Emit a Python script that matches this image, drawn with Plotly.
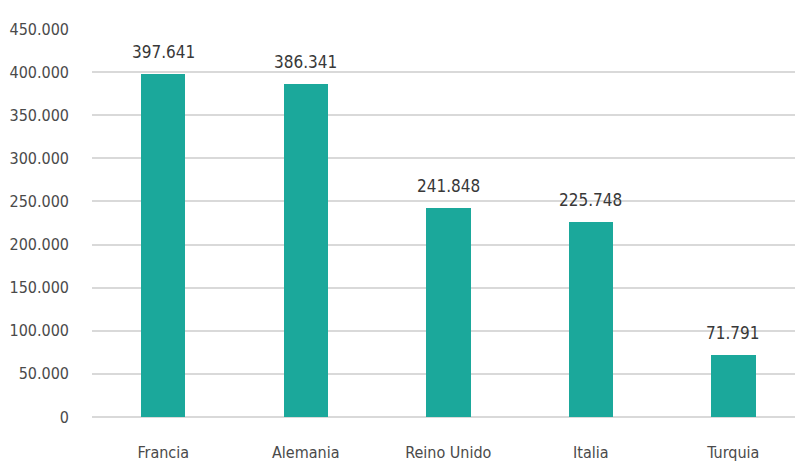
import plotly.graph_objects as go

# Data
paises = ["Francia", "Alemania", "Reino Unido", "Italia", "Turquia"]
valores = [397641, 386341, 241848, 225748, 71791]
y_ticks = [0, 50000, 100000, 150000, 200000, 250000, 300000, 350000, 400000, 450000]

FONT = "'DejaVu Sans Condensed', 'Liberation Sans Narrow', sans-serif"
BAR = "#1ba89b"


def fmt(v):
    return f"{v:,}".replace(",", ".")


fig = go.Figure()
fig.add_trace(go.Bar(
    x=paises,
    y=valores,
    width=0.312,
    marker=dict(color=BAR, line=dict(width=0)),
    hoverinfo="skip",
))

for p, v in zip(paises, valores):
    fig.add_annotation(
        x=p, y=v, text=fmt(v), showarrow=False,
        yanchor="bottom", yshift=10,
        font=dict(family=FONT, size=17, color="#383838"),
    )

fig.update_layout(
    width=795, height=463,
    margin=dict(l=92, r=0, t=29, b=46),
    paper_bgcolor="white", plot_bgcolor="white",
    separators=",.",
    showlegend=False,
    bargap=0,
    xaxis=dict(
        range=[-0.5, 4.433],
        showgrid=False, showline=False, zeroline=False,
        ticks="", tickfont=dict(family=FONT, size=16, color="#4a4a4a"),
        ticklabelstandoff=24,
    ),
    yaxis=dict(
        range=[0, 450000],
        tickvals=y_ticks,
        ticktext=[fmt(t) for t in y_ticks],
        showgrid=True, gridcolor="#d9d9d9", gridwidth=1.5,
        zeroline=True, zerolinecolor="#d9d9d9", zerolinewidth=2,
        showline=False, ticks="",
        tickfont=dict(family=FONT, size=16, color="#4a4a4a"),
        ticklabelstandoff=22,
    ),
)

fig.write_html("out.html")
